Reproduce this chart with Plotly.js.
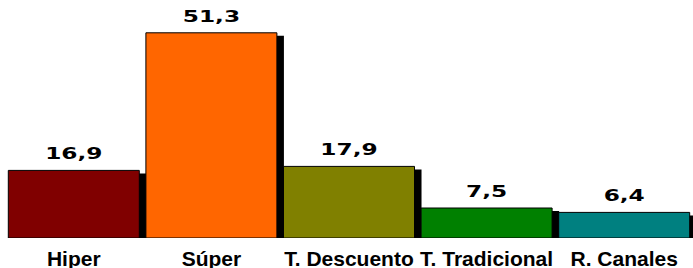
<!DOCTYPE html>
<html>
<head>
<meta charset="utf-8">
<script src="https://cdn.plot.ly/plotly-3.0.1.min.js"></script>
<style>html,body{margin:0;padding:0;background:#fff;overflow:hidden;}#chart{width:693px;height:268px;}</style>
</head>
<body>
<div id="chart"></div>
<script>
const categories = ["Hiper", "Súper", "T. Descuento", "T. Tradicional", "R. Canales"];
const values = [16.9, 51.3, 17.9, 7.5, 6.4];
const colors = ["#800000", "#FF6600", "#808000", "#008000", "#008080"];

const barWidth = 0.952;
const shadowTrace = {
  type: "bar", x: categories, y: values, base: -0.75,
  width: barWidth, offset: -barWidth / 2 + 0.051,
  marker: { color: "#000000", line: { width: 0 } },
  hoverinfo: "skip", showlegend: false
};
const mainTrace = {
  type: "bar", x: categories, y: values,
  width: barWidth, offset: -barWidth / 2,
  marker: { color: colors, line: { color: "#000000", width: 1 } },
  texttemplate: "%{y:.1f}", textposition: "outside", cliponaxis: false,
  textfont: { family: "DejaVu Sans", size: 15, color: "#000000", weight: "bold" },
  showlegend: false
};
const layout = {
  width: 693, height: 268,
  margin: { l: 5, r: 0, t: 0, b: 30, autoexpand: false },
  barmode: "overlay",
  separators: ",.",
  paper_bgcolor: "#ffffff", plot_bgcolor: "#ffffff",
  xaxis: { showgrid: false, zeroline: false, showline: false, ticks: "", automargin: false,
    range: [-0.5, 4.5], ticklabelstandoff: 6,
    tickfont: { family: "Liberation Sans, Arial", size: 21, color: "#000000", weight: "bold" } },
  yaxis: { range: [0, 59.5], visible: false, showgrid: false, zeroline: false, automargin: false },
  showlegend: false
};
Plotly.newPlot("chart", [shadowTrace, mainTrace], layout, { displayModeBar: false, staticPlot: true }).then(() => {
  document.querySelectorAll("text.bartext").forEach(t => {
    const g = document.createElementNS("http://www.w3.org/2000/svg", "g");
    t.parentNode.insertBefore(g, t);
    g.appendChild(t);
    const r = t.getBoundingClientRect();
    const ctm = g.getScreenCTM();
    const cx = (r.left + r.width / 2 - ctm.e) / ctm.a;
    g.setAttribute("transform", `translate(${cx},-4) scale(1.55,1) translate(${-cx},0)`);
  });
});
</script>
</body>
</html>
